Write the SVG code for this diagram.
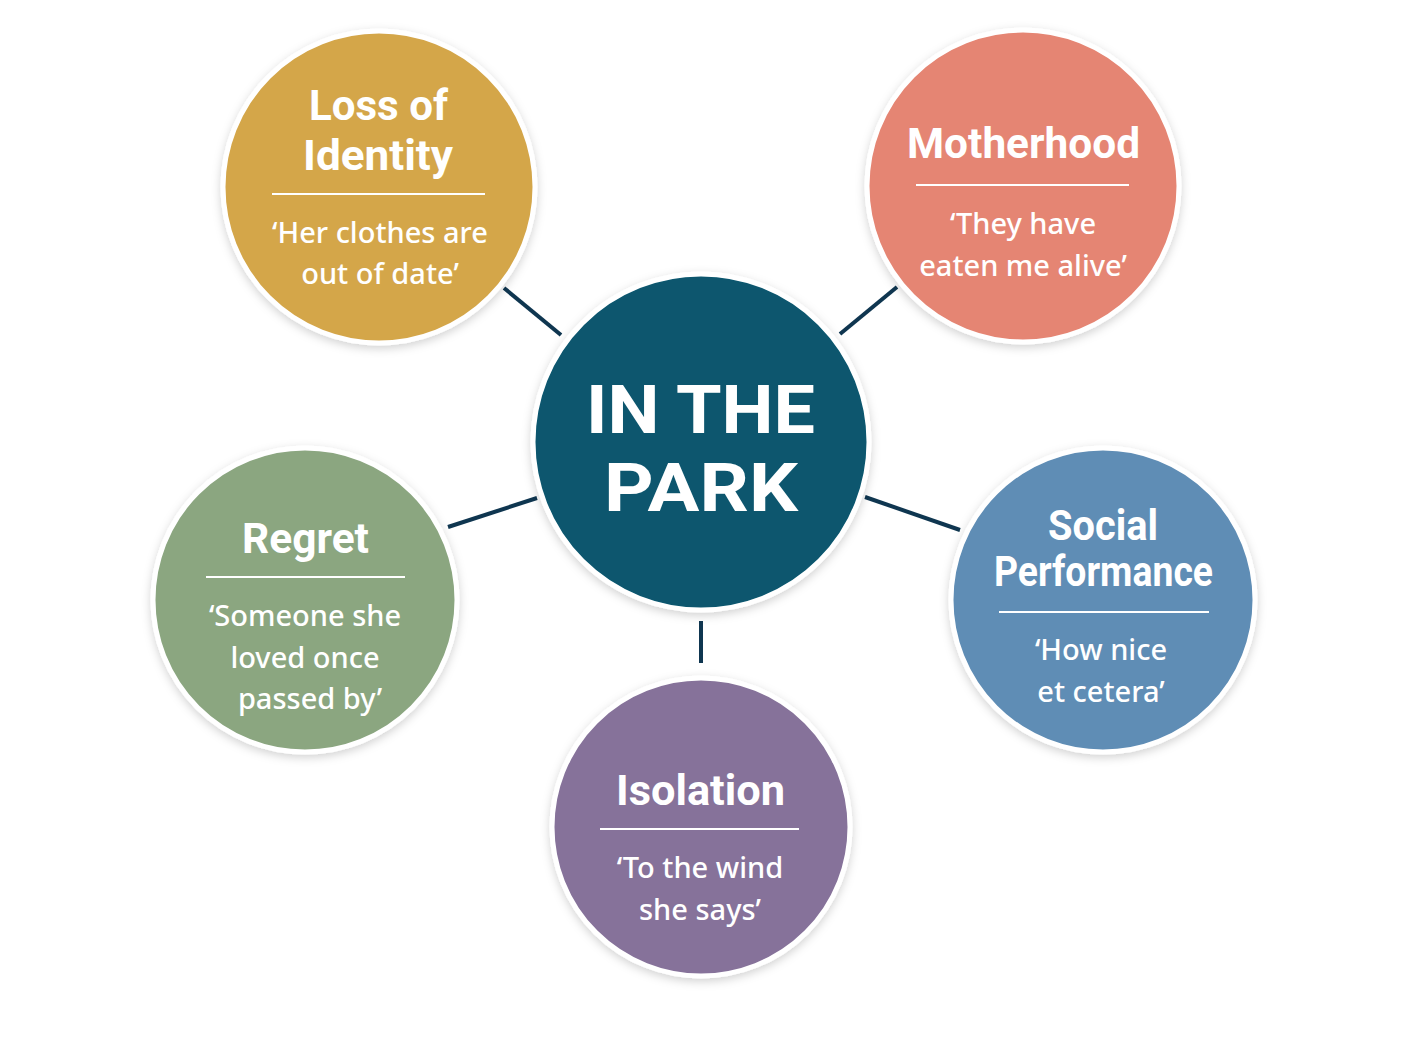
<svg xmlns="http://www.w3.org/2000/svg" width="1408" height="1056" viewBox="0 0 1408 1056">
  <defs>
    <filter id="sh" x="-20%" y="-20%" width="140%" height="140%">
      <feDropShadow dx="0" dy="3" stdDeviation="5" flood-color="#000" flood-opacity="0.18"/>
    </filter>
  </defs>
  <style>
    .node { stroke: #ffffff; stroke-width: 5; filter: url(#sh); }
    .title { font-family: Roboto, "Noto Sans", sans-serif; font-weight: 700; fill: #ffffff; text-anchor: middle; font-size: 42px; }
    .quote { font-family: "Noto Sans", "Open Sans", sans-serif; font-weight: 500; fill: #ffffff; text-anchor: middle; font-size: 29px; }
    .center { font-family: Roboto, "Noto Sans", sans-serif; font-weight: 700; fill: #ffffff; text-anchor: middle; font-size: 66px; }
    .div { stroke: #ffffff; stroke-width: 2; }
    .conn { stroke: #0f3650; stroke-width: 4; stroke-linecap: butt; }
  </style>
  <rect width="1408" height="1056" fill="#ffffff"/>

  <g id="connectors">
    <line class="conn" x1="504" y1="288" x2="561" y2="335"/>
    <line class="conn" x1="897" y1="287" x2="840" y2="334"/>
    <line class="conn" x1="448" y1="527" x2="537" y2="498"/>
    <line class="conn" x1="865" y1="497" x2="960" y2="530"/>
    <line class="conn" x1="701" y1="621" x2="701" y2="663"/>
  </g>

  <g id="center">
    <circle class="node" cx="701" cy="442" r="168" fill="#08566e"/>
    <text class="center" x="700.5" y="433" textLength="229" lengthAdjust="spacingAndGlyphs">IN THE</text>
    <text class="center" x="701" y="511" textLength="194" lengthAdjust="spacingAndGlyphs">PARK</text>
  </g>

  <g id="loss-of-identity">
    <circle class="node" cx="379" cy="187" r="156" fill="#d4a64a"/>
    <text class="title" x="378.5" y="120" textLength="139" lengthAdjust="spacingAndGlyphs">Loss of</text>
    <text class="title" x="378" y="170" textLength="150" lengthAdjust="spacingAndGlyphs">Identity</text>
    <line class="div" x1="272" y1="194" x2="485" y2="194"/>
    <text class="quote" x="380" y="243">‘Her clothes are</text>
    <text class="quote" x="380" y="284">out of date’</text>
  </g>

  <g id="motherhood">
    <circle class="node" cx="1023" cy="186" r="156" fill="#e58573"/>
    <text class="title" x="1023.5" y="158" textLength="233" lengthAdjust="spacingAndGlyphs">Motherhood</text>
    <line class="div" x1="916" y1="185" x2="1129" y2="185"/>
    <text class="quote" x="1023" y="234">‘They have</text>
    <text class="quote" x="1023" y="276">eaten me alive’</text>
  </g>

  <g id="regret">
    <circle class="node" cx="305" cy="600" r="152" fill="#8ba680"/>
    <text class="title" x="305.5" y="553" textLength="127" lengthAdjust="spacingAndGlyphs">Regret</text>
    <line class="div" x1="206" y1="577" x2="405" y2="577"/>
    <text class="quote" x="305" y="626">‘Someone she</text>
    <text class="quote" x="305" y="668">loved once</text>
    <text class="quote" x="310" y="709">passed by’</text>
  </g>

  <g id="social-performance">
    <circle class="node" cx="1103" cy="600" r="152" fill="#5f8db5"/>
    <text class="title" x="1103" y="540" textLength="110" lengthAdjust="spacingAndGlyphs">Social</text>
    <text class="title" x="1103.5" y="586" textLength="219" lengthAdjust="spacingAndGlyphs">Performance</text>
    <line class="div" x1="999" y1="612" x2="1209" y2="612"/>
    <text class="quote" x="1101" y="660">‘How nice</text>
    <text class="quote" x="1101" y="702">et cetera’</text>
  </g>

  <g id="isolation">
    <circle class="node" cx="701" cy="827" r="149" fill="#86729a"/>
    <text class="title" x="700.5" y="805" textLength="169" lengthAdjust="spacingAndGlyphs">Isolation</text>
    <line class="div" x1="600" y1="829" x2="799" y2="829"/>
    <text class="quote" x="700" y="878">‘To the wind</text>
    <text class="quote" x="700" y="920">she says’</text>
  </g>
</svg>
